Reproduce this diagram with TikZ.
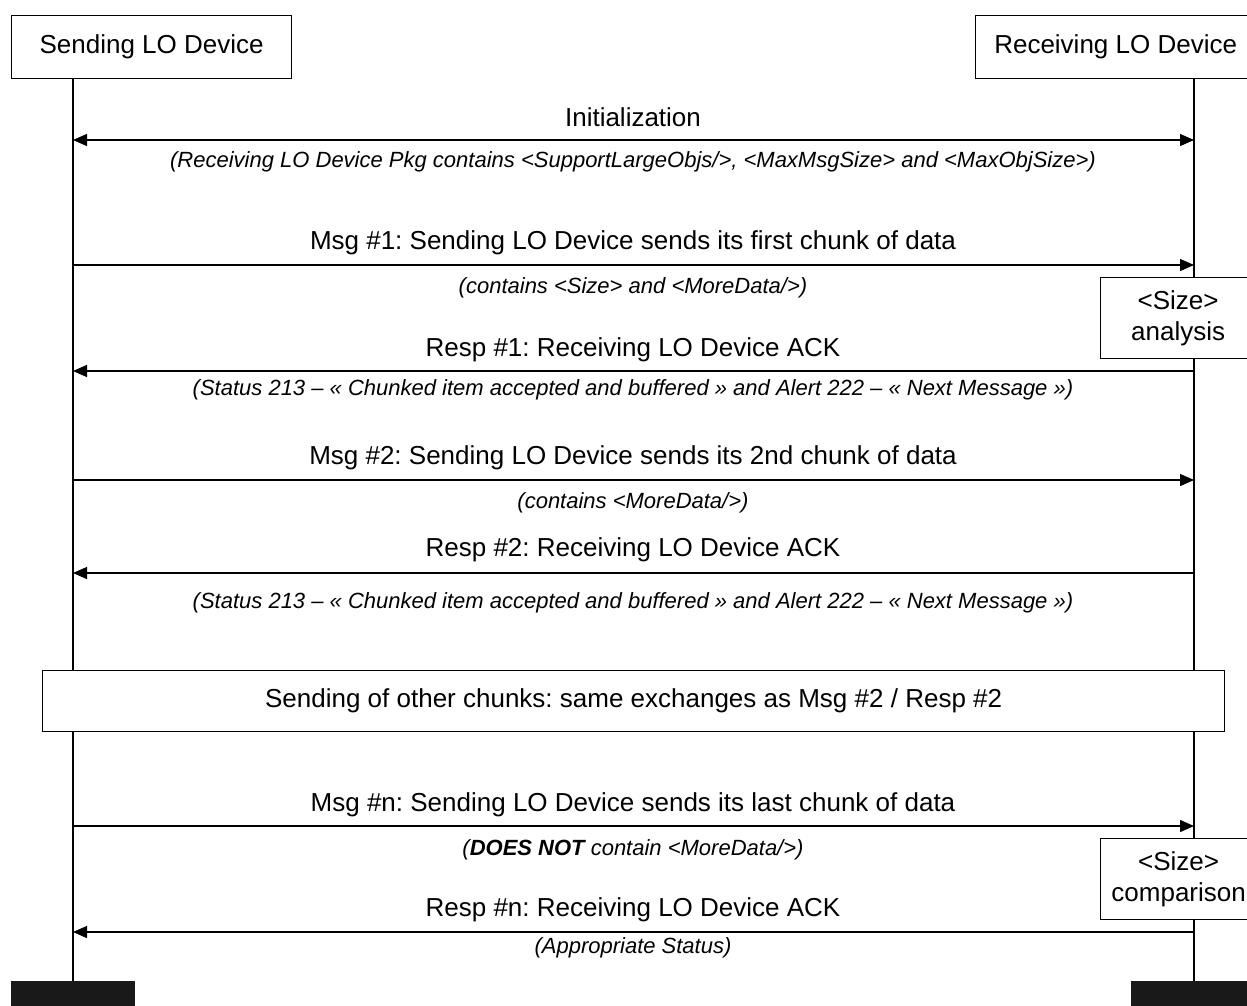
\documentclass[tikz,border=0pt]{standalone}
\usepackage{fontspec}
\setmainfont{Liberation Sans}
\usetikzlibrary{arrows.meta}
\frenchspacing
\begin{document}
\begin{tikzpicture}[x=1pt,y=-1pt,
  box/.style={draw=black,line width=1.3pt,fill=white,inner sep=0pt,font=\fontsize{26}{31}\selectfont,align=center},
  main/.style={font=\fontsize{26}{31}\selectfont,inner sep=0pt},
  note/.style={font=\fontsize{22}{26}\selectfont\itshape,inner sep=0pt},
  life/.style={line width=2pt},
  msg/.style={line width=1.3pt,-{Triangle[length=14pt,width=12pt]}},
  dmsg/.style={line width=1.3pt,{Triangle[length=14pt,width=12pt]}-{Triangle[length=14pt,width=12pt]}},
  endblk/.style={fill=black!90,inner sep=0pt,anchor=north west},
]
\useasboundingbox (0,0) rectangle (1247,1005);
\clip (0,0) rectangle (1247,1005);

% lifelines
\coordinate (sTop) at (73,78);
\coordinate (sBot) at (73,981);
\coordinate (rTop) at (1194,78);
\coordinate (rBot) at (1194,981);
\draw[life] (sTop) -- (sBot);
\draw[life] (rTop) -- (rBot);

% header boxes
\node[box,anchor=north west,minimum width=280pt,minimum height=63pt] (send) at (11,15) {Sending LO Device};
\node[box,anchor=north west,minimum width=280pt,minimum height=63pt] (recv) at (975,15) {Receiving LO Device};

% end blocks
\node[endblk,minimum width=124pt,minimum height=30pt] (sEnd) at (11,981) {};
\node[endblk,minimum width=130pt,minimum height=30pt] (rEnd) at (1131,981) {};

% Initialization
\coordinate (l0) at (73,140); \coordinate (r0) at (1194,140);
\draw[dmsg] (l0) -- (r0);
\node[main] (t0) at (633,117) {Initialization};
\node[note] (n0) at (633,162) {(Receiving LO Device Pkg contains <SupportLargeObjs/>, <MaxMsgSize> and <MaxObjSize>)};

% Msg 1
\coordinate (l1) at (73,265); \coordinate (r1) at (1194,265);
\draw[msg] (l1) -- (r1);
\node[main] (t1) at (633,243) {Msg \#1: Sending LO Device sends its first chunk of data};
\node[note] (n1) at (633,288) {(contains <Size> and <MoreData/>)};

% Resp 1
\coordinate (l2) at (73,371); \coordinate (r2) at (1194,371);
\draw[msg] (r2) -- (l2);
\node[main] (t2) at (633,350) {Resp \#1: Receiving LO Device ACK};
\node[note] (n2) at (633,390) {(Status 213 – « Chunked item accepted and buffered » and Alert 222 – « Next Message »)};

% Msg 2
\coordinate (l3) at (73,480); \coordinate (r3) at (1194,480);
\draw[msg] (l3) -- (r3);
\node[main] (t3) at (633,458) {Msg \#2: Sending LO Device sends its 2nd chunk of data};
\node[note] (n3) at (633,503) {(contains <MoreData/>)};

% Resp 2
\coordinate (l4) at (73,573); \coordinate (r4) at (1194,573);
\draw[msg] (r4) -- (l4);
\node[main] (t4) at (633,550) {Resp \#2: Receiving LO Device ACK};
\node[note] (n4) at (633,603) {(Status 213 – « Chunked item accepted and buffered » and Alert 222 – « Next Message »)};

% other chunks
\node[box,anchor=north west,minimum width=1182pt,minimum height=61pt] (other) at (42,670) {Sending of other chunks: same exchanges as Msg \#2 / Resp \#2};

% Msg n
\coordinate (l5) at (73,826); \coordinate (r5) at (1194,826);
\draw[msg] (l5) -- (r5);
\node[main] (t5) at (633,805) {Msg \#n: Sending LO Device sends its last chunk of data};
\node[note] (n5) at (633,850) {(\textbf{DOES NOT} contain <MoreData/>)};

% Resp n
\coordinate (l6) at (73,932); \coordinate (r6) at (1194,932);
\draw[msg] (r6) -- (l6);
\node[main] (t6) at (633,910) {Resp \#n: Receiving LO Device ACK};
\node[note] (n6) at (633,948) {(Appropriate Status)};

% analysis boxes
\node[box,anchor=north west,minimum width=155pt,minimum height=81pt] (ana) at (1100,277) {<Size>\\analysis};
\node[box,anchor=north west,minimum width=156pt,minimum height=81pt] (cmp) at (1100,838) {<Size>\\comparison};
\end{tikzpicture}
\end{document}
